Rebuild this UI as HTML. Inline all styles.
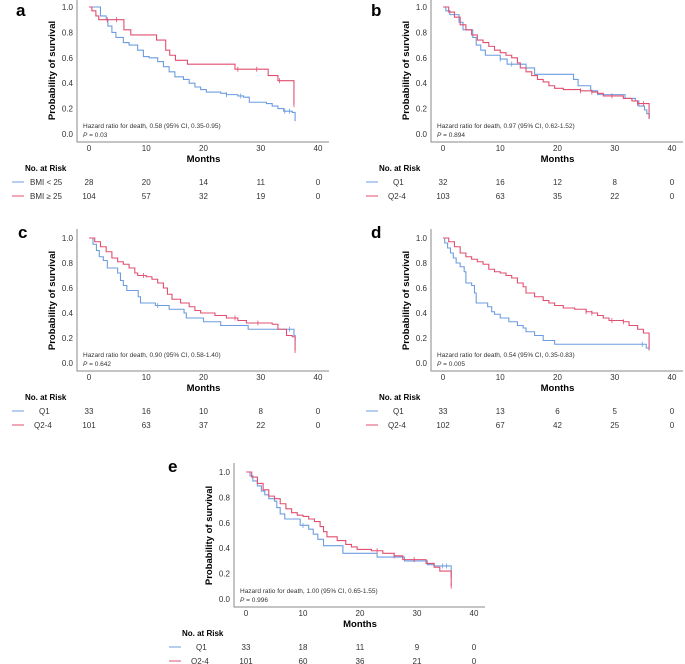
<!DOCTYPE html>
<html><head><meta charset="utf-8"><style>
html,body{margin:0;padding:0;background:#fff}
svg{display:block;font-family:"Liberation Sans",sans-serif}
</style></head><body>
<svg id="fig" width="685" height="664" viewBox="0 0 685 664"></svg>
<script>
// ---- data ----
const xTicks=[0,10,20,30,40];
const yTicks=[0.0,0.2,0.4,0.6,0.8,1.0];
const aBlueT=[0,2,3,3.3,4,4.7,6,7,8.5,9.5,10.5,12,13,14,15,16.5,17.5,18.5,19.5,20.5,23,24,26,27,28,31,32,33,34,35.5,36];
const aBlueS=[1,0.93,0.9,0.85,0.8,0.76,0.72,0.7,0.66,0.61,0.6,0.57,0.53,0.49,0.45,0.43,0.4,0.37,0.35,0.33,0.32,0.31,0.3,0.29,0.25,0.24,0.22,0.2,0.18,0.17,0.1];
const aRedT=[0,0.5,1.2,1.7,6.1,7.3,11.8,13.4,14.1,15.1,17.2,25.5,31.3,33,35.8];
const aRedS=[1,0.97,0.93,0.9,0.82,0.78,0.74,0.66,0.62,0.58,0.55,0.51,0.46,0.42,0.23];
const aRedC=[3.2,4.8,26,29.3,33.3,35.8];
const aBlueC=[24,26.5,34.2,35];
const bBlueT=[0,0.5,1.2,2.8,3.5,5.2,5.8,6.6,7.4,10,11.2,14.5,16,22.8,23.6,25.8,27,31.8,33.6,34.2,35.2,35.6,36];
const bBlueS=[1,0.97,0.94,0.88,0.82,0.76,0.7,0.66,0.62,0.59,0.55,0.52,0.47,0.43,0.38,0.34,0.31,0.28,0.26,0.22,0.19,0.16,0.12];
const bRedT=[0,1,2,3,4,5,6,7,8,9,10,11,12,13,13.5,14.5,15.5,16.5,17.5,18.5,19.5,21,24,26,27,28,31.5,33,34,36];
const bRedS=[1,0.96,0.92,0.86,0.82,0.78,0.74,0.72,0.69,0.66,0.64,0.62,0.6,0.56,0.52,0.49,0.46,0.43,0.41,0.38,0.36,0.35,0.34,0.33,0.32,0.3,0.28,0.26,0.24,0.12];
const bBlueC=[10,12];
const bRedC=[24,26,29.5,34,35];
const cBlueT=[0,0.7,1.3,1.8,2.5,3.2,5,5.5,6,6.6,8.6,9,11.6,14,16.6,17,20,23,27.8,35.8,36];
const cBlueS=[1,0.95,0.9,0.85,0.82,0.76,0.72,0.66,0.62,0.58,0.53,0.48,0.46,0.43,0.4,0.36,0.33,0.3,0.27,0.22,0.18];
const cRedT=[0,1,2,3,4,5,6,7,8,8.5,10,11,12,13,13.7,14.5,16,17.5,18.5,19.5,22,24,26,27.5,32,33,34.5,35.5,36];
const cRedS=[1,0.97,0.93,0.89,0.84,0.81,0.79,0.76,0.72,0.7,0.69,0.67,0.64,0.6,0.55,0.51,0.48,0.45,0.42,0.4,0.38,0.36,0.34,0.32,0.31,0.27,0.22,0.21,0.1];
const cBlueC=[12,35];
const cRedC=[9.5,25.5,29.5,36];
const dBlueT=[0,0.3,0.8,1.3,1.8,2.3,3,3.7,4,5,5.5,5.8,7.8,8.5,9,10,11.5,13,14,14.5,16,17.5,19.5,35.5,36];
const dBlueS=[1,0.96,0.92,0.88,0.84,0.8,0.77,0.73,0.64,0.62,0.56,0.48,0.45,0.41,0.39,0.36,0.33,0.3,0.28,0.25,0.22,0.18,0.15,0.12,0.1];
const dRedT=[0,1,2,3,4,5,6,7,8,9,10,11,12,13,14,14.5,16,17.5,18.5,19.5,21,23,25,26,27,28,29,31.5,32.5,34,35,36];
const dRedS=[1,0.97,0.93,0.88,0.85,0.83,0.81,0.79,0.75,0.73,0.72,0.7,0.68,0.64,0.61,0.56,0.53,0.5,0.48,0.46,0.44,0.43,0.41,0.4,0.38,0.36,0.34,0.33,0.3,0.27,0.24,0.12];
const dBlueC=[34.8];
const dRedC=[25,26,29.5,31.5,36];
const eBlueT=[0,0.7,1.2,2,2.7,3.3,4,5,5.4,6,6.8,9.5,11,11.8,12.6,13.6,17,23,27.8,31.8,33,36];
const eBlueS=[1,0.97,0.93,0.89,0.85,0.82,0.79,0.77,0.72,0.67,0.63,0.58,0.55,0.51,0.47,0.42,0.36,0.33,0.3,0.27,0.26,0.17];
const eRedT=[0,1,2,3,4,5,6,7,8,9,10,11,12,13,13.6,14.2,16,17.5,18.5,19.5,22,24,26,27.5,31.6,33,34,36];
const eRedS=[1,0.96,0.91,0.86,0.81,0.79,0.75,0.71,0.68,0.66,0.65,0.63,0.61,0.57,0.53,0.49,0.46,0.43,0.41,0.39,0.38,0.36,0.34,0.31,0.28,0.25,0.22,0.1];
const eBlueC=[10,34.5,35.2];
const eRedC=[23,26,29.5,36];
const aRiskBlue=[28,20,14,11,0], aRiskRed=[104,57,32,19,0];
const bRiskBlue=[32,16,12,8,0], bRiskRed=[103,63,35,22,0];
const cRiskBlue=[33,16,10,8,0], cRiskRed=[101,63,37,22,0];
const dRiskBlue=[33,13,6,5,0], dRiskRed=[102,67,42,25,0];
const eRiskBlue=[33,18,11,9,0], eRiskRed=[101,60,36,21,0];

const BLUE="#6c9de0", RED="#e14f70";
const NS="http://www.w3.org/2000/svg";
const svg=document.getElementById('fig');
function mk(tag,attrs,parent,text){const e=document.createElementNS(NS,tag);for(const k in attrs)e.setAttribute(k,attrs[k]);if(text!==undefined)e.textContent=text;(parent||svg).appendChild(e);return e;}

function panel(p){
  const g=mk('g',{});
  
  
  const X=t=>p.x0+(p.x40-p.x0)*t/40;
  const Y=v=>p.yz+(p.y1-p.yz)*v;
  const L=p.x0-12, B=p.yz+8;
  let t=mk('text',{x:p.lx,y:p.ly,'font-size':17,'font-weight':'bold'},g,p.id);
  
  let ax=mk('path',{d:`M${L} ${p.y1-9}V${B}H${p.x40+11}`,fill:'none',stroke:'#8a8a8a','stroke-width':1},g);
  
  yTicks.forEach(v=>{const e=mk('text',{x:L-4,y:Y(v)+3,'font-size':8,'text-anchor':'end',fill:'#333'},g,v.toFixed(1));
    });
  xTicks.forEach(v=>{const e=mk('text',{x:X(v),y:B+9,'font-size':8,'text-anchor':'middle',fill:'#333'},g,String(v));
    });
  const yc=(Y(1)+Y(0))/2;
  let yt=mk('text',{x:0,y:0,'font-size':9.5,'font-weight':'bold','text-anchor':'middle',transform:`translate(${L-22},${yc}) rotate(-90)`},g,'Probability of survival');
  
  let xt=mk('text',{x:(X(0)+X(40))/2,y:B+20,'font-size':9.5,'font-weight':'bold','text-anchor':'middle'},g,'Months');
  
  let h=mk('text',{x:L+6,y:p.yz-6,'font-size':6.5,fill:'#333'},g,p.hr);
  
  let pv=mk('text',{x:L+6,y:p.yz+3,'font-size':6.5,fill:'#333'},g);
  
  mk('tspan',{'font-style':'italic'},pv,'P');mk('tspan',{},pv,' = '+p.p);
  [[p.bT,p.bS,p.bC,BLUE,'blue'],[p.rT,p.rS,p.rC,RED,'red']].forEach(([T,S,C,col,nm])=>{
    let d=`M${X(T[0])} ${Y(S[0])}`;
    for(let i=1;i<T.length;i++){d+=`H${X(T[i])}V${Y(S[i])}`;}
    const path=mk('path',{d,fill:'none',stroke:col,'stroke-width':1.1},g);
    
    
    C.forEach(c=>{let v=S[0];for(let i=0;i<T.length;i++){if(T[i]<=c)v=S[i];}
      const m=mk('line',{x1:X(c),x2:X(c),y1:Y(v)-2.5,y2:Y(v)+2.5,stroke:col,'stroke-width':0.8},g);
      
      });
  });
  const lx=L-65;
  let nr=mk('text',{x:lx+13,y:p.yz+37,'font-size':8,'font-weight':'bold'},g,'No. at Risk');
  
  [[p.nb,p.riskB,BLUE,p.labB,48],[p.nr,p.riskR,RED,p.labR,62]].forEach(([lab,arr,col,labX,dy])=>{
    const yy=p.yz+dy;
    const ln=mk('line',{x1:lx,x2:lx+12,y1:yy,y2:yy,stroke:col,'stroke-width':1},g);
    
    const tl=mk('text',{x:lx+labX,y:yy+3,'font-size':8,fill:'#333'},g,lab);
    
    arr.forEach((n,i)=>{const e=mk('text',{x:X(xTicks[i]),y:yy+3,'font-size':8,'text-anchor':'middle',fill:'#333'},g,String(n));
      });
  });
}
panel({id:'a',lx:16,ly:16,x0:89,x40:318,y1:7,yz:134,bT:aBlueT,bS:aBlueS,bC:aBlueC,rT:aRedT,rS:aRedS,rC:aRedC,hr:'Hazard ratio for death, 0.58 (95% CI, 0.35-0.95)',p:'0.03',nb:'BMI < 25',nr:'BMI ≥ 25',labB:18,labR:18,riskB:aRiskBlue,riskR:aRiskRed});
panel({id:'b',lx:371,ly:16,x0:443,x40:672,y1:7,yz:134,bT:bBlueT,bS:bBlueS,bC:bBlueC,rT:bRedT,rS:bRedS,rC:bRedC,hr:'Hazard ratio for death, 0.97 (95% CI, 0.62-1.52)',p:'0.894',nb:'Q1',nr:'Q2-4',labB:27,labR:22,riskB:bRiskBlue,riskR:bRiskRed});
panel({id:'c',lx:18,ly:238,x0:89,x40:318,y1:238,yz:363,bT:cBlueT,bS:cBlueS,bC:cBlueC,rT:cRedT,rS:cRedS,rC:cRedC,hr:'Hazard ratio for death, 0.90 (95% CI, 0.58-1.40)',p:'0.642',nb:'Q1',nr:'Q2-4',labB:27,labR:22,riskB:cRiskBlue,riskR:cRiskRed});
panel({id:'d',lx:371,ly:238,x0:443,x40:672,y1:238,yz:363,bT:dBlueT,bS:dBlueS,bC:dBlueC,rT:dRedT,rS:dRedS,rC:dRedC,hr:'Hazard ratio for death, 0.54 (95% CI, 0.35-0.83)',p:'0.005',nb:'Q1',nr:'Q2-4',labB:27,labR:22,riskB:dRiskBlue,riskR:dRiskRed});
panel({id:'e',lx:168,ly:472,x0:246,x40:474,y1:472,yz:599,bT:eBlueT,bS:eBlueS,bC:eBlueC,rT:eRedT,rS:eRedS,rC:eRedC,hr:'Hazard ratio for death, 1.00 (95% CI, 0.65-1.55)',p:'0.996',nb:'Q1',nr:'Q2-4',labB:27,labR:22,riskB:eRiskBlue,riskR:eRiskRed});
</script>
</body></html>
